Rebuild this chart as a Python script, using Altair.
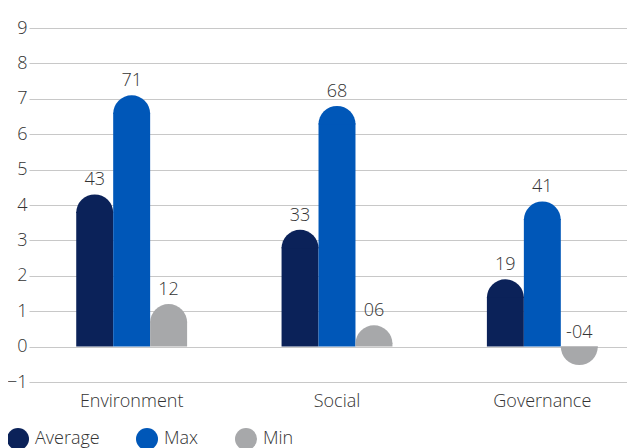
import altair as alt
import pandas as pd
import math

categories = ["Environment", "Social", "Governance"]
series = ["Average", "Max", "Min"]
average = [4.3, 3.3, 1.9]
maximum = [7.1, 6.8, 4.1]
minimum = [1.2, 0.6, -0.4]
labels_avg = ["43", "33", "19"]
labels_max = ["71", "68", "41"]
labels_min = ["12", "06", "-04"]
colors = ["#0b2259", "#0057b8", "#a7a8aa"]
y_ticks = [-1, 0, 1, 2, 3, 4, 5, 6, 7, 8, 9]

rows = []
for i, c in enumerate(categories):
    rows.append({"category": c, "series": "Average", "value": average[i], "label": labels_avg[i]})
    rows.append({"category": c, "series": "Max", "value": maximum[i], "label": labels_max[i]})
    rows.append({"category": c, "series": "Min", "value": minimum[i], "label": labels_min[i]})
df = pd.DataFrame(rows)

FONT = "Open Sans"
FW = 300
FS = 18
TXT = "#333333"
PLOT_H = 354
BAR_R = 18.5
R_UNITS = BAR_R / (PLOT_H / 10.0)
OVERLAP = 0.03

x_enc = alt.X(
    "category:N",
    sort=categories,
    scale=alt.Scale(range=[-5, 611], paddingInner=0.46, paddingOuter=0.23),
    axis=alt.Axis(title=None, domain=False, ticks=False, labelAngle=0,
                  labelFontSize=FS, labelColor=TXT, labelFont=FONT, labelFontWeight=FW,
                  labelPadding=10, grid=False),
)
xoff = alt.XOffset("series:N", sort=series, scale=alt.Scale(paddingInner=0, paddingOuter=0))
y_axis = alt.Axis(title=None, values=y_ticks, domain=False, ticks=False, labelOverlap=False,
                  labelFontSize=FS, labelColor=TXT, labelFont=FONT, labelFontWeight=FW,
                  labelPadding=7, gridColor="#c8c8c8", gridWidth=1)
y_scale = alt.Scale(domain=[-1, 9], nice=False, zero=False)
color_enc = alt.Color(
    "series:N",
    sort=series,
    scale=alt.Scale(domain=series, range=colors),
    legend=alt.Legend(
        title=None, orient="none", legendX=-27, legendY=400, direction="horizontal",
        symbolType="circle", symbolSize=484, symbolStrokeWidth=0, symbolOpacity=1,
        labelFontSize=FS, labelFont=FONT, labelFontWeight=FW, labelColor=TXT, labelOffset=6,
        columnPadding=36,
    ),
)

base = alt.Chart(df).transform_calculate(
    capy=f"datum.value >= 0 ? max(datum.value - {R_UNITS}, 0) : min(datum.value + {R_UNITS}, 0)",
    labely="max(datum.value, 0)",
).transform_calculate(
    recty=f"datum.value >= 0 ? datum.capy + {OVERLAP} : datum.capy - {OVERLAP}",
)

rects = base.mark_bar().encode(
    x=x_enc,
    xOffset=xoff,
    y=alt.Y("recty:Q", scale=y_scale, axis=y_axis),
    y2=alt.datum(0),
    color=color_enc,
)

caps_up = base.transform_filter("datum.value >= 0").mark_arc(
    radius=BAR_R, theta=1.5 * math.pi, theta2=2.5 * math.pi
).encode(
    x=x_enc,
    xOffset=xoff,
    y=alt.Y("capy:Q", scale=y_scale, axis=y_axis),
    color=color_enc,
)

caps_down = base.transform_filter("datum.value < 0").mark_arc(
    radius=BAR_R, theta=0.5 * math.pi, theta2=1.5 * math.pi
).encode(
    x=x_enc,
    xOffset=xoff,
    y=alt.Y("capy:Q", scale=y_scale, axis=y_axis),
    color=color_enc,
)

text = base.mark_text(baseline="bottom", dy=-5, fontSize=FS, font=FONT, fontWeight=FW,
                      color=TXT).encode(
    x=x_enc,
    xOffset=xoff,
    y=alt.Y("labely:Q", scale=y_scale, axis=y_axis),
    text="label:N",
)

chart = alt.layer(rects, caps_up, caps_down, text).properties(
    width=591,
    height=PLOT_H,
    padding={"left": 26, "top": 20, "right": 2, "bottom": 66},
    autosize="none",
).configure_view(stroke=None)

chart.save("out.html", embed_options={"renderer": "svg", "actions": False})
